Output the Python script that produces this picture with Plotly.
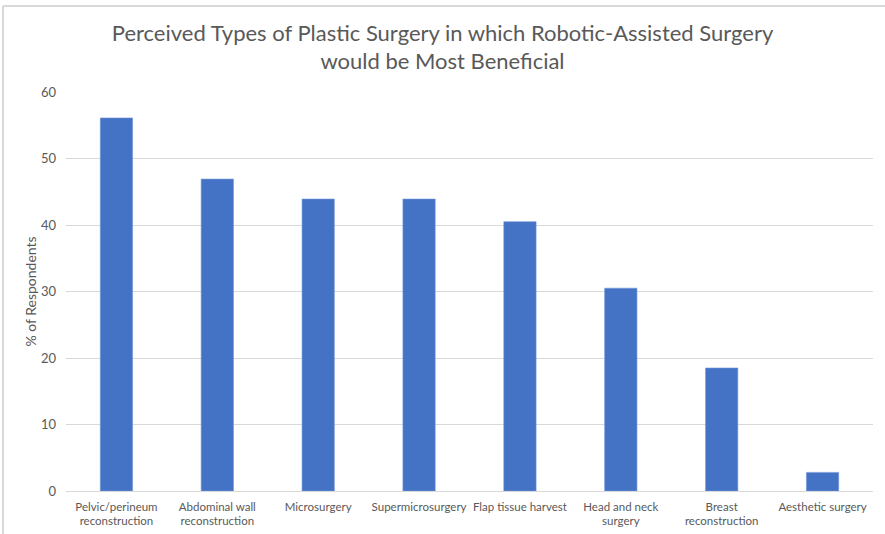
import plotly.graph_objects as go

categories = ["Pelvic/perineum<br>reconstruction", "Abdominal wall<br>reconstruction", "Microsurgery",
              "Supermicrosurgery", "Flap tissue harvest", "Head and neck<br>surgery",
              "Breast<br>reconstruction", "Aesthetic surgery"]
values = [56.1, 46.9, 43.9, 43.9, 40.5, 30.5, 18.5, 2.8]
y_ticks = [0, 10, 20, 30, 40, 50, 60]

W, H = 885, 534
ML, MR, MT, MB = 66, 12, 92, 43
pw, ph = W - ML - MR, H - MT - MB

def px_x(x):
    return (x - ML) / pw

def px_y(y):
    return (H - MB - y) / ph

FONT = "Lato, 'Open Sans', sans-serif"

fig = go.Figure(go.Bar(x=categories, y=values, marker_color="#4472c4",
                       marker_line_color="#6f95d8", marker_line_width=0.6))

fig.update_layout(
    width=W, height=H,
    margin=dict(l=ML, r=MR, t=MT, b=MB),
    paper_bgcolor="white", plot_bgcolor="white",
    bargap=0.68,
    showlegend=False,
    font=dict(family=FONT, color="#595959", size=12),
    title=dict(text="Perceived Types of Plastic Surgery in which Robotic-Assisted Surgery<br>would be Most Beneficial",
               x=0.5, xanchor="center", y=0.924, yanchor="middle",
               font=dict(family=FONT, size=22, color="#595959")),
    xaxis=dict(showgrid=False, showline=False, ticks="", ticklabelstandoff=7, tickangle=0, automargin=False,
               tickfont=dict(size=11.5, color="#595959")),
    yaxis=dict(range=[0, 60], tickvals=y_ticks, showgrid=True, gridcolor="#d9d9d9", gridwidth=1,
               zeroline=True, zerolinecolor="#d9d9d9", zerolinewidth=1, automargin=False,
               showline=False, ticks="", ticklabelstandoff=9,
               tickfont=dict(size=13, color="#595959"),
               title=dict(text="% of Respondents", font=dict(size=14, color="#595959"), standoff=1)),
    shapes=[
        dict(type="line", xref="paper", yref="paper", x0=px_x(3), x1=px_x(885), y0=px_y(6), y1=px_y(6),
             line=dict(color="#d9d9d9", width=2)),
        dict(type="line", xref="paper", yref="paper", x0=px_x(3), x1=px_x(3), y0=px_y(6), y1=px_y(534),
             line=dict(color="#d9d9d9", width=2)),
    ],
)

fig.write_html("out.html")
